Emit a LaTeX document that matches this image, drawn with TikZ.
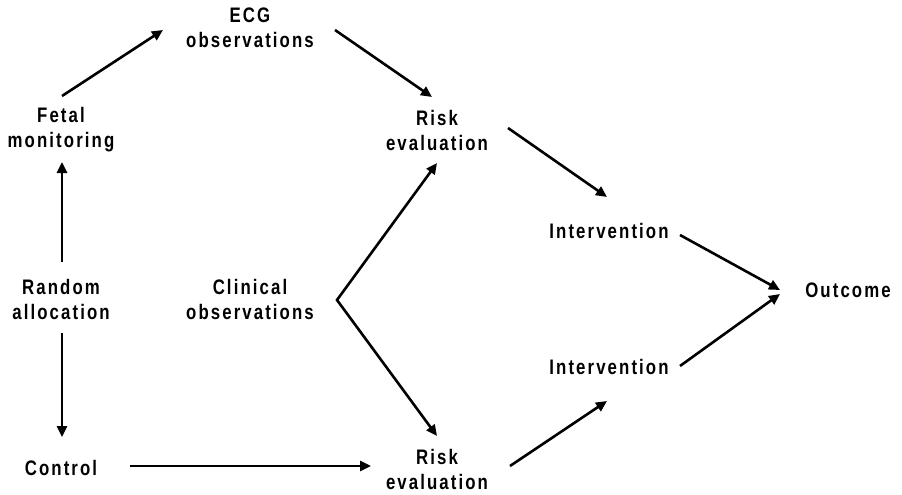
\documentclass[tikz,border=0pt]{standalone}
\usepackage{fontspec}
\setmainfont{Liberation Sans}
\usetikzlibrary{arrows.meta}
\newfontfamily\labfont{Liberation Sans}[FakeStretch=0.8,LetterSpace=10]
\begin{document}
\begin{tikzpicture}[x=1pt,y=-1pt,
  lab/.style={align=center,inner sep=0pt,font=\labfont\bfseries\fontsize{21}{25}\selectfont},
  arr/.style={line width=2.6pt,-{Triangle[length=11pt,width=10pt]}},
  dbl/.style={line width=2.6pt,{Triangle[length=11pt,width=10pt]}-{Triangle[length=11pt,width=10pt]}}]
\useasboundingbox (0,0) rectangle (902,495);
\node[lab] (ecg) at (250,28) {ECG\\observations};
\node[lab] (fetal) at (61,130) {Fetal\\monitoring};
\node[lab] (random) at (61,299) {Random\\allocation};
\node[lab] (clinical) at (250,299) {Clinical\\observations};
\node[lab] (control) at (61,468) {Control};
\node[lab] (risktop) at (437,130) {Risk\\evaluation};
\node[lab] (riskbot) at (437,469) {Risk\\evaluation};
\node[lab] (int1) at (609,231) {Intervention};
\node[lab] (int2) at (609,367) {Intervention};
\node[lab] (outcome) at (848,290) {Outcome};
\coordinate (vertex) at ([shift={(87,1)}]clinical.center);
\draw[arr] ([shift={(1,-34)}]fetal.center) -- ([shift={(-87,2)}]ecg.center);
\draw[arr] ([shift={(1,-37)}]random.center) -- ([shift={(1,32)}]fetal.center);
\draw[arr] ([shift={(1,34)}]random.center) -- ([shift={(1,-31)}]control.center);
\draw[arr] ([shift={(69,-2)}]control.center) -- ([shift={(-66,-3)}]riskbot.center);
\draw[arr] ([shift={(85,2)}]ecg.center) -- ([shift={(-5,-33)}]risktop.center);
\draw[dbl] ([shift={(0,33)}]risktop.center) -- (vertex) -- ([shift={(0,-33)}]riskbot.center);
\draw[arr] ([shift={(71,-2)}]risktop.center) -- ([shift={(-2,-34)}]int1.center);
\draw[arr] ([shift={(73,-3)}]riskbot.center) -- ([shift={(-2,34)}]int2.center);
\draw[arr] ([shift={(71,4)}]int1.center) -- ([shift={(-68,0)}]outcome.center);
\draw[arr] ([shift={(71,-1)}]int2.center) -- ([shift={(-68,4)}]outcome.center);
\end{tikzpicture}
\end{document}
